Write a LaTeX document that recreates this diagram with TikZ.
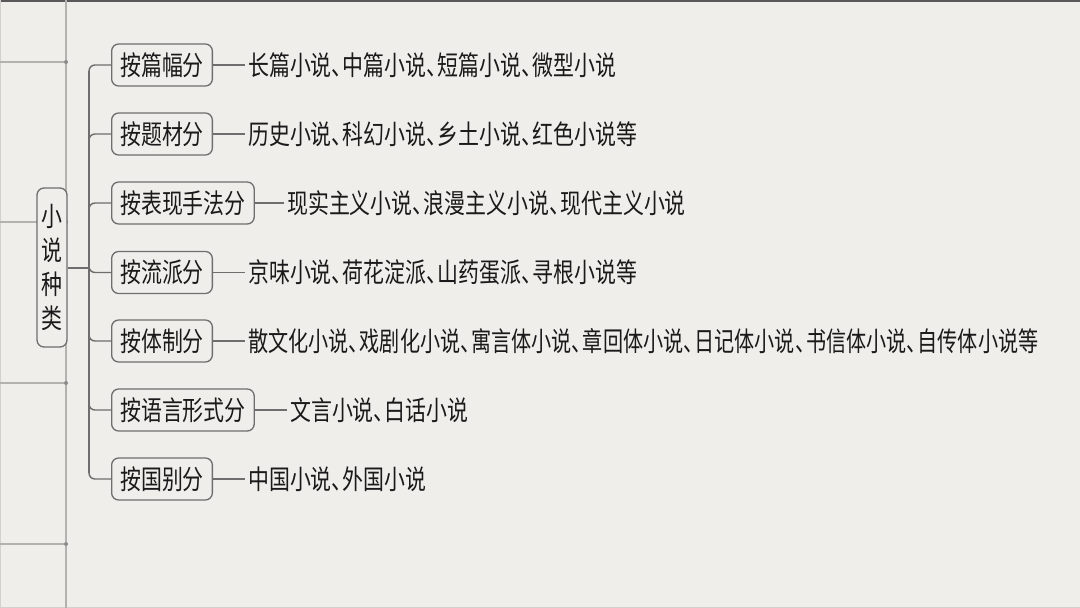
\documentclass[tikz,border=0pt]{standalone}
\usepackage{fontspec}
\newfontfamily\cjk[FakeStretch=0.775]{Noto Sans CJK SC}
\newfontfamily\cjkn[FakeStretch=0.745]{Noto Sans CJK SC}
\newcommand\dun{\makebox[11pt][l]{、}}
\definecolor{bgc}{HTML}{F0EEEA}
\definecolor{linec}{HTML}{6E6E6E}
\definecolor{pagec}{HTML}{B4B2AE}
\definecolor{txtc}{HTML}{1A1A1A}
\tikzset{
  cat/.style={draw=linec, line width=1.3pt, rounded corners=7pt, fill=bgc,
    minimum height=42pt, inner xsep=8.5pt, inner ysep=0pt, anchor=west,
    text=txtc, font=\cjk\fontsize{27pt}{30pt}\selectfont},
  leaf/.style={anchor=west, inner xsep=3pt, inner ysep=0pt, text=txtc,
    font=\cjk\fontsize{27pt}{30pt}\selectfont},
  conn/.style={draw=linec, line width=1.4pt},
  pageline/.style={draw=pagec, line width=1.2pt}
}
\begin{document}
\begin{tikzpicture}[x=1pt, y=-1pt]
\useasboundingbox (0,0) rectangle (1080,608);
\fill[bgc] (0,0) rectangle (1080,608);
% page decorations
\draw[draw=black!65, line width=2.2pt] (0,1) -- (1080,1);
\draw[draw=pagec!60, line width=1pt] (0.5,0) -- (0.5,608);
\draw[draw=pagec!60, line width=1pt] (0,607) -- (1080,607);
\draw[pageline] (66,0) -- (66,608);
\foreach \yy in {62,222,383,544} {
  \draw[pageline] (0,\yy) -- (66,\yy);
  \fill[black!45] (66,\yy) circle (2pt);
}
% root
\node[draw=linec, line width=1.3pt, rounded corners=7pt, fill=bgc,
  minimum width=30pt, minimum height=159pt, inner sep=0pt, align=center,
  text=txtc, font=\cjk\fontsize{27pt}{34pt}\selectfont]
  (root) at (52,267.5) {小\\说\\种\\类};
% categories
\node[cat] (b1) at (111,65) {按篇幅分};
\node[cat] (b2) at (111,134) {按题材分};
\node[cat] (b3) at (111,203) {按表现手法分};
\node[cat] (b4) at (111,272.5) {按流派分};
\node[cat] (b5) at (111,341) {按体制分};
\node[cat] (b6) at (111,410) {按语言形式分};
\node[cat] (b7) at (111,479) {按国别分};
% leaves
\node[leaf] (l1) at (245,65) {长篇小说\dun 中篇小说\dun 短篇小说\dun 微型小说};
\node[leaf] (l2) at (245,134) {历史小说\dun 科幻小说\dun 乡土小说\dun 红色小说等};
\node[leaf] (l3) at (284,203) {现实主义小说\dun 浪漫主义小说\dun 现代主义小说};
\node[leaf] (l4) at (245,272.5) {京味小说\dun 荷花淀派\dun 山药蛋派\dun 寻根小说等};
\node[leaf, font=\cjkn\fontsize{27pt}{30pt}\selectfont] (l5) at (245,341) {散文化小说\dun 戏剧化小说\dun 寓言体小说\dun 章回体小说\dun 日记体小说\dun 书信体小说\dun 自传体小说等};
\node[leaf] (l6) at (287,410) {文言小说\dun 白话小说};
\node[leaf] (l7) at (245,479) {中国小说\dun 外国小说};
% spine and branches
\coordinate (sp) at (89,268);
\draw[conn] (root.east |- sp) -- (sp);
\draw[conn] (89,71) -- (89,473);
\foreach \i in {1,2,3} {
  \draw[conn] (b\i.west) -- ([xshift=-16pt]b\i.west) to[out=180,in=90] ([xshift=-22pt,yshift=-6pt]b\i.west);
}
\foreach \i in {4,5,6,7} {
  \draw[conn] (b\i.west) -- ([xshift=-16pt]b\i.west) to[out=180,in=-90] ([xshift=-22pt,yshift=6pt]b\i.west);
}
% leaf connectors
\foreach \i in {1,...,7} {
  \draw[conn] (b\i.east) -- (l\i.west);
}
\end{tikzpicture}
\end{document}
